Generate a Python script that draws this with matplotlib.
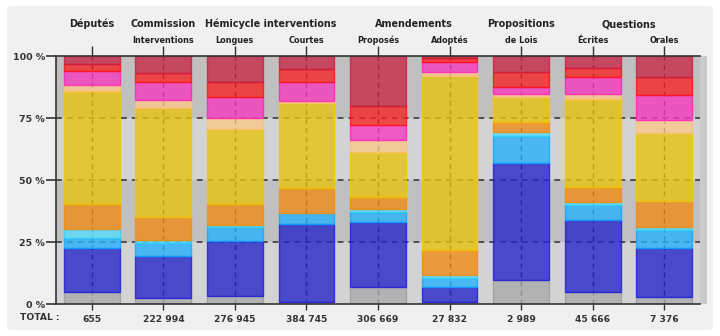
import matplotlib
matplotlib.use("Agg")
import matplotlib.pyplot as plt
import numpy as np
from matplotlib.patches import FancyBboxPatch, Rectangle

# column headers (two lines) and totals under each bar
headers_top = ["Députés", "Commission", "", "", "", "", "Propositions", "", ""]
group_headers = [("Hémicycle interventions", 2.5), ("Amendements", 4.5), ("Questions", 7.5)]
headers_sub = ["", "Interventions", "Longues", "Courtes", "Proposés", "Adoptés", "de Lois", "Écrites", "Orales"]
totals = ["655", "222 994", "276 945", "384 745", "306 669", "27 832", "2 989", "45 666", "7 376"]

# share (%) of each group, stacked bottom to top
gray = [5.0, 2.5, 3.3, 0.9, 7.0, 0.7, 9.7, 5.0, 2.7]
blue = [17.7, 16.9, 22.1, 31.2, 26.2, 6.3, 47.3, 28.9, 19.8]
light_blue = [4.0, 5.1, 5.8, 4.5, 4.0, 3.4, 10.7, 6.0, 7.3]
cyan = [3.4, 1.2, 0.7, 0.0, 1.3, 1.3, 1.8, 1.1, 1.4]
orange = [10.2, 9.5, 8.4, 10.0, 4.7, 10.1, 4.0, 6.3, 10.5]
yellow = [45.7, 43.7, 30.1, 34.3, 18.1, 70.1, 9.8, 35.2, 27.4]
peach = [2.4, 3.4, 4.5, 1.0, 4.7, 1.8, 1.4, 2.2, 5.1]
pink = [5.7, 7.3, 8.7, 7.7, 6.1, 4.0, 2.9, 7.0, 10.1]
red = [2.7, 3.7, 6.0, 5.0, 7.8, 1.4, 5.8, 3.3, 7.4]
dark_red = [3.2, 6.7, 10.4, 5.4, 20.0, 0.9, 6.6, 5.0, 8.3]

series = [
    (gray, "#aaaaaa", "#9c9c9c"),
    (blue, "#2626c8", "#1a1ae0"),
    (light_blue, "#28b1fa", "#10a6ff"),
    (cyan, "#57dcfc", "#30d4ff"),
    (orange, "#f08c19", "#f88a00"),
    (yellow, "#e6c311", "#f0c800"),
    (peach, "#fac88c", "#ffc070"),
    (pink, "#f53cbe", "#ff20c0"),
    (red, "#f52525", "#ff1010"),
    (dark_red, "#c52a48", "#c81c40"),
]

x = np.arange(len(totals))

fig = plt.figure(figsize=(7.2, 3.36), dpi=100)
fig.patch.set_facecolor("white")
panel = FancyBboxPatch((7 / 720, 6 / 336), 706 / 720, 324 / 336,
                       boxstyle="round,pad=0,rounding_size=0.006",
                       transform=fig.transFigure, facecolor="#f0f0f0",
                       edgecolor="none", zorder=-10)
fig.patches.append(panel)

ax = fig.add_axes([56 / 720, 32 / 336, 644 / 720, 248 / 336])
ax.set_zorder(1)
ax.set_facecolor("#d3d3d3")
ax.set_xlim(-0.5, len(x) - 0.5)
ax.set_ylim(0, 100)

# alternating bands
for lo in (25, 75):
    ax.axhspan(lo, lo + 25, color="#c0c0c0", zorder=0, lw=0)

# dashed grid under the semi-transparent bars
for yv in (25, 50, 75):
    ax.axhline(yv, color="#3a3a3a", lw=1.2, ls=(0, (3.5, 3)), zorder=1)
for xv in x:
    ax.axvline(xv, color="#1a1a1a", lw=1.0, ls=(0, (3.5, 3)), zorder=1)

bottom = np.zeros(len(x))
for vals, fc, ec in series:
    vals = np.array(vals)
    ax.bar(x, vals, bottom=bottom, width=0.78, facecolor=fc, edgecolor=ec,
           linewidth=1.0, alpha=0.8, zorder=2)
    bottom += vals

# axis styling
for side in ("left", "top", "bottom"):
    ax.spines[side].set_color("#333333")
    ax.spines[side].set_linewidth(1.2)
ax.spines["right"].set_visible(False)
ax.add_patch(Rectangle((1.0, 0), 7 / 644, 1.0, transform=ax.transAxes,
                       facecolor="#cacaca", edgecolor="none", clip_on=False, zorder=0))

ax.set_yticks([0, 25, 50, 75, 100])
ax.set_yticklabels(["0 %", "25 %", "50 %", "75 %", "100 %"], fontsize=6.8,
                   fontweight="bold", color="#333333")
ax.tick_params(axis="y", length=7, width=1.2, color="#333333", pad=1)

ax.set_xticks(x)
ax.set_xticklabels(totals, fontsize=6.6, fontweight="bold", color="#333333")
ax.tick_params(axis="x", length=4, width=1.0, color="#333333", pad=4, top=True)
for t in ax.xaxis.get_major_ticks():
    t.tick2line.set_markersize(7)

ax.text(0.006, -0.056, "TOTAL :", transform=ax.transAxes, ha="right", va="center",
        fontsize=6.6, fontweight="bold", color="#333333")

xt = ax.get_xaxis_transform()
for xi, h in zip(x, headers_top):
    if h:
        ax.text(xi, 1.129, h, transform=xt, ha="center", va="center",
                fontsize=6.9, fontweight="bold", color="#222222")
for h, xc in group_headers:
    ax.text(xc, 1.129, h, transform=xt, ha="center", va="center",
            fontsize=6.9, fontweight="bold", color="#222222")
for xi, h in zip(x, headers_sub):
    if h:
        ax.text(xi, 1.0645, h, transform=xt, ha="center", va="center",
                fontsize=5.9, fontweight="bold", color="#222222")

fig.savefig("out.png", dpi=100)
